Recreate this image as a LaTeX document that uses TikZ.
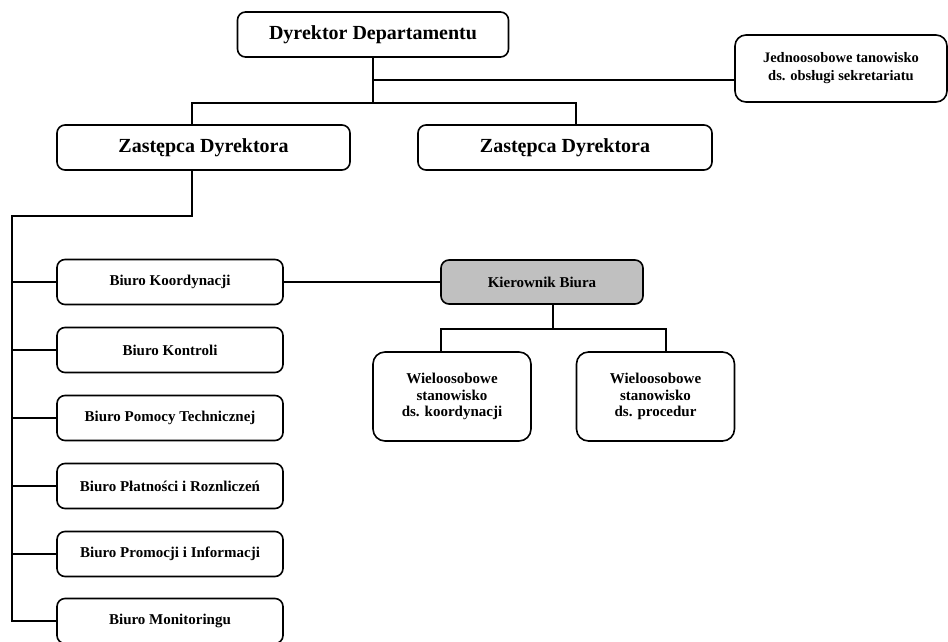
\documentclass[tikz,border=0pt]{standalone}
\usepackage{fontspec}
\setmainfont{Liberation Serif}
\begin{document}
\begin{tikzpicture}[x=1pt,y=-1pt,
  box/.style={draw, line width=1.6pt, rounded corners=8pt, align=center, inner sep=0pt, font=\bfseries\fontsize{15}{16.5}\selectfont},
  bigbox/.style={box, font=\bfseries\fontsize{20}{22}\selectfont},
  conn/.style={line width=1.6pt}]
\useasboundingbox (0,0) rectangle (948,641);
\fill[white] (0,0) rectangle (948,641);
% top level
\node[bigbox, minimum width=271, minimum height=45] (dd) at (373,34.5) {Dyrektor Departamentu};
\node[box, rounded corners=11pt, minimum width=212, minimum height=67, font=\bfseries\fontsize{14.5}{18}\selectfont] (sek) at (841,68.5) {Jednoosobowe tanowisko\\ds. obsługi sekretariatu};
\node[bigbox, minimum width=293, minimum height=45] (z1) at (203.5,147.5) {Zastępca Dyrektora};
\node[bigbox, minimum width=294, minimum height=45] (z2) at (565,147.5) {Zastępca Dyrektora};
% biura
\node[box, minimum width=226, minimum height=45] (b1) at (170,282) {Biuro Koordynacji};
\node[box, minimum width=226, minimum height=45] (b2) at (170,350) {Biuro Kontroli};
\node[box, minimum width=226, minimum height=45] (b3) at (170,418) {Biuro Pomocy Technicznej};
\node[box, minimum width=226, minimum height=45] (b4) at (170,486) {Biuro Płatności i Roznliczeń};
\node[box, minimum width=226, minimum height=45] (b5) at (170,554) {Biuro Promocji i Informacji};
\node[box, minimum width=226, minimum height=45] (b6) at (170,621) {Biuro Monitoringu};
% kierownik
\node[box, fill={rgb,255:red,192;green,192;blue,192}, minimum width=202, minimum height=44] (kb) at (542,282) {Kierownik Biura};
\node[box, rounded corners=12pt, minimum width=158, minimum height=89] (w1) at (452,396.5) {Wieloosobowe\\stanowisko\\ds. koordynacji};
\node[box, rounded corners=12pt, minimum width=158, minimum height=89] (w2) at (655.5,396.5) {Wieloosobowe\\stanowisko\\ds. procedur};
% connectors
\coordinate (hL) at (192,103);
\coordinate (hR) at (576,103);
\coordinate (v) at (12,216);
\coordinate (kL) at (441,329);
\coordinate (kR) at (666,329);
\draw[conn] (dd.south) -- (dd.south |- hL);
\draw[conn] (z1.north -| hL) -- (hL) -- (hR) -- (z2.north -| hR);
\draw[conn] (dd.south |- 0,80) -- (sek.west |- 0,80);
\draw[conn] (z1.south -| hL) |- (v) -- (v |- b6.west) -- (b6.west);
\foreach \b in {b1,b2,b3,b4,b5}{
  \draw[conn] (v |- \b.west) -- (\b.west);
}
\draw[conn] (b1.east) -- (kb.west);
\draw[conn] ([xshift=11pt]kb.south) -- ([xshift=11pt]kb.south |- kL);
\draw[conn] (w1.north -| kL) -- (kL) -- (kR) -- (w2.north -| kR);
\end{tikzpicture}
\end{document}
